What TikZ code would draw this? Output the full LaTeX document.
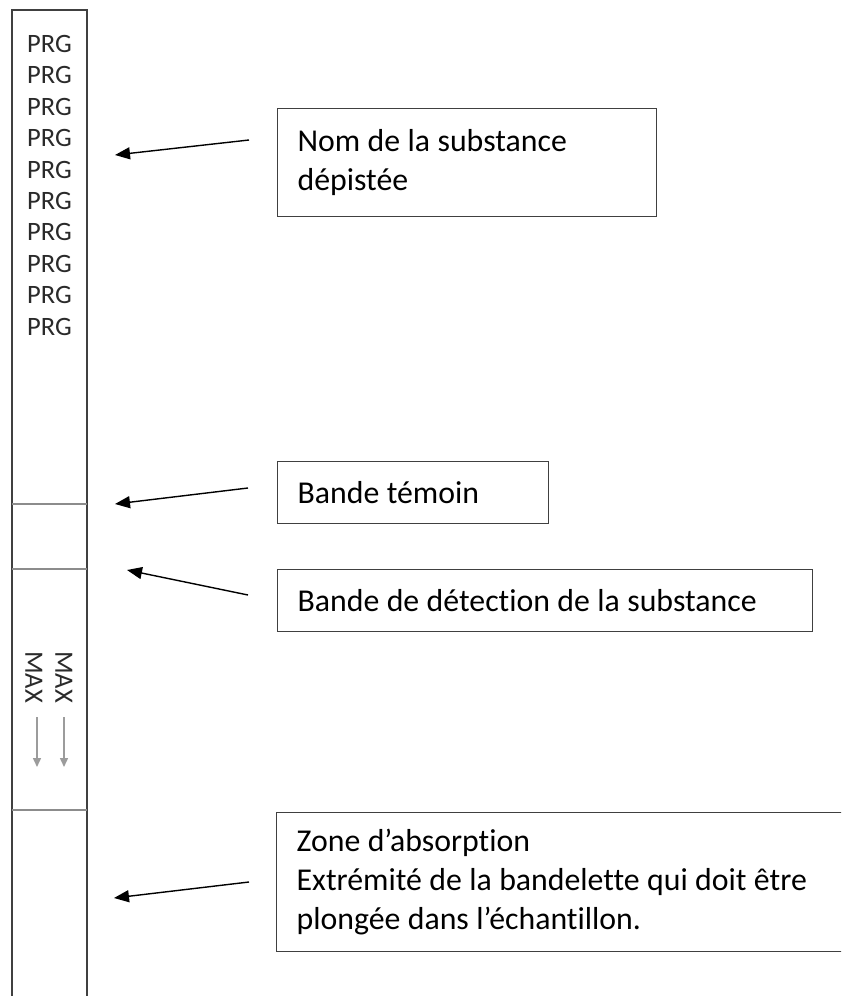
\documentclass[tikz,border=0pt]{standalone}
\usepackage{fontspec}
\setmainfont{Carlito}
\newfontfamily\boxfont{Carlito}[RawFeature={-liga;-clig;-calt;-dlig}]
\usetikzlibrary{arrows.meta}
\definecolor{edgecol}{HTML}{404040}
\definecolor{divgray}{HTML}{8C8C8C}
\definecolor{arrgray}{HTML}{9C9C9C}
\definecolor{stripText}{HTML}{2A2A2A}
\newcommand{\bxs}{\spaceskip=7.4pt plus 2pt minus 1pt\relax}
\begin{document}
\begin{tikzpicture}[x=1pt,y=-1pt,
  labelbox/.style={draw=edgecol, line width=1.3pt, anchor=north west, inner xsep=20pt, inner ysep=0pt,
    align=left, font=\boxfont\fontsize{31.8}{39}\selectfont},
  stripline/.style={draw=edgecol, line width=1.5pt},
  divline/.style={draw=divgray, line width=2pt},
  pointer/.style={draw=black, line width=1.4pt, -{Triangle[length=15pt,width=12pt]}},
  greyarrow/.style={draw=arrgray, line width=1.5pt, -{Triangle[length=9pt,width=8pt]}},
  striptext/.style={text=stripText, inner sep=0pt, font=\boxfont\fontsize{26.5}{30}\selectfont}
]
\useasboundingbox (0,0) rectangle (841,996);
\clip (0,0) rectangle (841,996);
\fill[white] (0,0) rectangle (841,996);

% strip
\draw[stripline] (12,1010) -- (12,10) -- (87,10) -- (87,1010);
\draw[divline] (12,504) -- (87,504);
\draw[divline] (12,569) -- (87,569);
\draw[divline] (12,810) -- (87,810);

% PRG labels
\foreach \i in {0,...,9}{
  \node[striptext] (prg\i) at (49.5,{44+31.4*\i}) {PRG};
}

% MAX labels and grey arrows
\node[striptext, rotate=-90] (max1) at (34,677) {MAX};
\node[striptext, rotate=-90] (max2) at (64,677) {MAX};
\coordinate (g1s) at (37,717); \coordinate (g1e) at (37,767);
\coordinate (g2s) at (64,717); \coordinate (g2e) at (64,767);
\draw[greyarrow] (g1s) -- (g1e);
\draw[greyarrow] (g2s) -- (g2e);

% label boxes
\node[labelbox, text width=339pt, minimum height=108pt] (b1) at (277,108)
  {\fontsize{31.8}{44}\selectfont\bxs Nom de la substance\\dépistée};
\node[labelbox, text width=231pt, minimum height=62pt] (b2) at (277,461) {\bxs Bande témoin};
\node[labelbox, text width=495pt, minimum height=62pt] (b3) at (277,569) {\bxs Bande de détection de la substance};
\node[labelbox, text width=760pt, minimum height=139pt] (b4) at (276,812)
  {\bxs Zone d’absorption\\Extrémité de la bandelette qui doit être\\plongée dans l’échantillon.};

% pointers
\coordinate (p1s) at (249,140); \coordinate (p1e) at (115,155);
\coordinate (p2s) at (248,488); \coordinate (p2e) at (115,504);
\coordinate (p3s) at (248,595); \coordinate (p3e) at (127,570);
\coordinate (p4s) at (249,882); \coordinate (p4e) at (114,898);
\draw[pointer] (p1s) -- (p1e);
\draw[pointer] (p2s) -- (p2e);
\draw[pointer] (p3s) -- (p3e);
\draw[pointer] (p4s) -- (p4e);
\end{tikzpicture}
\end{document}
